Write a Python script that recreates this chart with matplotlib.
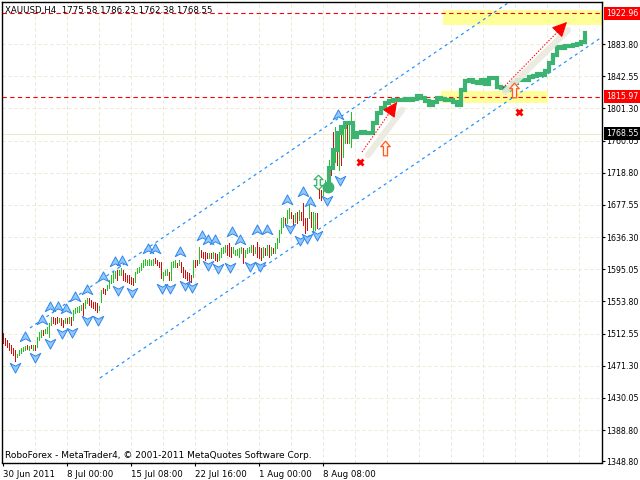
import numpy as np
import matplotlib
matplotlib.use("Agg")
import matplotlib.pyplot as plt
from matplotlib.path import Path
from matplotlib.patches import Rectangle

plt.rcParams['font.family'] = ['DejaVu Sans']
FS = 6.2
FS_Y = 5.7
FS_FOOT = 6.5

# ---------------- data ----------------
title_text = "XAUUSD,H4  1775.58 1786.23 1762.38 1768.55"
footer_text = "RoboForex - MetaTrader4, \u00a9 2001-2011 MetaQuotes Software Corp."

opens = [
    1513.3, 1506.9, 1504.3, 1500.5, 1497.9, 1494.1, 1491.5, 1482.5, 1485.0, 1487.4,
    1489.9, 1491.5, 1497.9, 1491.5, 1497.9, 1491.5, 1497.9, 1495.3, 1504.3, 1508.1,
    1517.1, 1513.3, 1513.3, 1508.1, 1523.5, 1533.8, 1532.5, 1533.8, 1527.4, 1532.5,
    1529.9, 1526.1, 1532.5, 1526.1, 1533.8, 1529.9, 1538.9, 1540.2, 1540.2, 1542.8,
    1551.7, 1545.3, 1551.7, 1558.1, 1555.6, 1553.0, 1553.0, 1551.7, 1542.8, 1553.0,
    1571.0, 1569.7, 1568.4, 1571.0, 1577.4, 1578.6, 1583.8, 1594.0, 1587.6, 1587.6,
    1594.0, 1590.2, 1587.6, 1587.6, 1585.1, 1583.8, 1578.6, 1590.2, 1591.5, 1594.0,
    1597.9, 1600.5, 1600.5, 1600.5, 1600.5, 1600.5, 1609.4, 1606.9, 1604.3, 1604.3,
    1581.2, 1587.6, 1587.6, 1591.5, 1581.2, 1597.9, 1597.9, 1603.0, 1600.5, 1604.3,
    1597.9, 1594.0, 1591.5, 1590.2, 1587.6, 1585.1, 1606.9, 1606.9, 1603.0, 1619.7,
    1617.1, 1617.1, 1615.8, 1609.4, 1615.8, 1609.4, 1615.8, 1614.6, 1606.9, 1610.7,
    1615.8, 1617.1, 1626.1, 1628.7, 1623.5, 1615.8, 1613.3, 1613.3, 1610.7, 1615.8,
    1622.2, 1610.7, 1615.8, 1617.1, 1617.1, 1626.1, 1615.8, 1630.0, 1623.5, 1622.2,
    1610.7, 1622.2, 1613.3, 1626.1, 1613.3, 1622.2, 1615.8, 1622.2, 1630.0, 1641.5,
    1649.2, 1660.7, 1654.3, 1660.7, 1668.4, 1664.6, 1655.6, 1668.4, 1658.1, 1668.4,
    1680.0, 1660.7, 1660.7, 1660.7, 1668.4, 1642.8, 1645.3, 1667.1, 1705.6, 1696.6,
    1690.2, 1696.6, 1703.0, 1713.3, 1735.1, 1771.0, 1732.5, 1756.9, 1722.3, 1777.4,
    1738.9, 1756.9, 1783.8, 1756.9, 1751.8, 1775.58,
]
closes = [
    1500.5, 1497.9, 1495.3, 1491.5, 1487.4, 1484.9, 1477.2, 1486.1, 1491.5, 1494.1,
    1495.3, 1496.6, 1492.8, 1496.6, 1494.1, 1497.9, 1491.5, 1508.1, 1514.5, 1517.1,
    1510.7, 1518.4, 1521.0, 1526.1, 1533.8, 1526.1, 1524.8, 1526.1, 1532.5, 1523.5,
    1521.0, 1532.5, 1526.1, 1533.8, 1523.5, 1542.8, 1545.3, 1546.6, 1547.9, 1549.2,
    1536.3, 1555.6, 1558.1, 1549.2, 1546.6, 1545.3, 1542.8, 1540.2, 1547.9, 1568.4,
    1564.5, 1563.3, 1574.8, 1581.2, 1587.6, 1591.5, 1592.8, 1581.2, 1594.0, 1596.6,
    1581.2, 1580.0, 1578.6, 1577.4, 1576.1, 1574.8, 1591.5, 1596.6, 1597.9, 1603.0,
    1606.9, 1608.2, 1606.9, 1608.2, 1606.9, 1608.2, 1603.0, 1600.5, 1597.9, 1583.8,
    1591.5, 1594.0, 1595.3, 1581.2, 1604.3, 1605.6, 1606.9, 1597.9, 1606.9, 1591.5,
    1585.1, 1583.8, 1581.2, 1580.0, 1578.6, 1606.9, 1597.9, 1600.5, 1623.5, 1610.7,
    1609.4, 1606.9, 1609.4, 1615.8, 1609.4, 1617.1, 1606.9, 1605.6, 1617.1, 1622.2,
    1623.5, 1626.1, 1613.3, 1612.0, 1610.7, 1623.5, 1619.7, 1621.0, 1622.2, 1623.5,
    1603.0, 1619.7, 1622.2, 1623.5, 1626.1, 1613.3, 1623.5, 1610.7, 1609.4, 1606.9,
    1623.5, 1613.3, 1626.1, 1610.7, 1623.5, 1615.8, 1628.7, 1635.1, 1645.3, 1660.7,
    1662.0, 1651.7, 1671.0, 1673.5, 1660.7, 1651.7, 1667.1, 1654.3, 1671.0, 1658.1,
    1651.7, 1641.5, 1645.3, 1683.8, 1649.2, 1668.4, 1667.1, 1647.9, 1686.3, 1683.8,
    1703.0, 1709.4, 1712.0, 1735.1, 1715.8, 1728.7, 1777.4, 1728.7, 1767.1, 1728.7,
    1779.9, 1783.8, 1756.9, 1779.9, 1796.6, 1768.55,
]

forecast_start = 162
forecast_step = 2
forecast = [
    1700.5, 1724.8, 1747.9, 1769.7, 1777.4, 1782.5, 1782.5, 1764.6, 1769.7, 1771.0,
    1769.7, 1769.7, 1782.5, 1795.3, 1801.7, 1808.1, 1810.7, 1812.0, 1812.0, 1812.0,
    1813.3, 1812.0, 1813.3, 1817.1, 1814.6, 1810.7, 1805.6, 1809.4, 1814.6, 1813.3,
    1812.0, 1812.0, 1809.4, 1805.6, 1824.8, 1836.4, 1837.6, 1835.1, 1833.8, 1837.6,
    1832.5, 1840.2, 1840.2, 1828.7, 1827.4, 1824.8, 1826.1, 1833.8, 1837.6, 1837.6,
    1837.6, 1841.5, 1842.8, 1845.3, 1844.1, 1849.2, 1859.4, 1869.7, 1880.0, 1878.7,
    1881.2, 1881.2, 1882.5, 1883.8, 1886.4, 1897.9,
]

up_frac_idx = [11, 19.5, 23.5, 27.5, 31.5, 36, 42, 50, 56, 59.5, 72.5, 76, 88.5,
               99.5, 102.5, 106, 114.5, 118.5, 127, 132, 142, 150, 153.5, 167.5]
up_frac_price = [1508.1, 1529.9, 1546.6, 1546.6, 1544.1, 1559.4, 1568.4, 1585.1,
                 1604.3, 1605.6, 1621.0, 1621.0, 1617.1, 1637.6, 1632.5, 1632.5,
                 1642.8, 1632.5, 1645.3, 1645.3, 1683.8, 1694.0, 1681.2, 1792.8]
dn_frac_idx = [6, 16, 23.5, 29.5, 34.5, 42, 47.5, 57.5, 64.5, 79.5, 83.5, 91, 94.5,
               102.5, 107.5, 113.5, 123.5, 128.5, 143.5, 148.5, 152, 157, 162, 168.5]
dn_frac_price = [1469.7, 1482.5, 1500.5, 1513.3, 1514.5, 1529.9, 1529.9, 1568.4,
                 1565.8, 1571.0, 1571.0, 1574.8, 1572.2, 1600.5, 1596.6, 1597.9,
                 1599.2, 1599.2, 1647.9, 1632.5, 1635.1, 1638.9, 1683.8, 1709.4]

price_ticks = [1883.80, 1842.55, 1801.30, 1760.05, 1718.80, 1677.55, 1636.30,
               1595.05, 1553.80, 1512.55, 1471.30, 1430.05, 1388.80, 1348.80]
time_idx = [0, 32, 64, 96, 128, 160]
time_labels = ["30 Jun 2011", "8 Jul 00:00", "15 Jul 08:00", "22 Jul 16:00",
               "1 Aug 00:00", "8 Aug 08:00"]
grid_step = 16
n_slots = 300
price_min, price_max = 1347.24, 1937.65

level_target = 1922.96
level_support = 1815.97
last_price = 1768.55

zone_top = (220, 299.5, 1908.2, 1927.4)
zone_bottom = (219, 272.5, 1808.1, 1823.5)

chan_up_idx = [13.5, 252.5]
chan_up_price = [1519.7, 1936.4]
chan_lo_idx = [48.5, 299.5]
chan_lo_price = [1455.6, 1892.8]

arrow_big = ((250, 1827.4), (282, 1912.0))
shadow_big = ((251, 1822.3), (282.5, 1901.7))
arrow_small = ((179.5, 1745.3), (197, 1809.4))
shadow_small = ((182.5, 1741.5), (199.5, 1799.2))

buy_idx = [191, 255.5]
buy_price = [1750.5, 1824.8]
stop_idx = [178.5, 258]
stop_price = [1732.5, 1796.6]
updown_idx = [157.5]
updown_price = [1706.9]

# ---------------- figure ----------------
fig = plt.figure(figsize=(6.4, 4.8), dpi=100)
fig.patch.set_facecolor('white')
ax = fig.add_axes([2 / 640, 1 - 462.5 / 480, 600 / 640, 460.5 / 480])
ax.set_xlim(-0.5, n_slots - 0.5)
ax.set_ylim(price_min, price_max)
ax.set_facecolor('white')

PX = 0.72  # one pixel in points
grid_col = '#e9e9d2'
for gx in range(grid_step, n_slots, grid_step):
    ax.axvline(gx, color=grid_col, lw=PX, dashes=(3, 3), zorder=0.5)
for gy in price_ticks[:-1]:
    ax.axhline(gy, color=grid_col, lw=PX, dashes=(3, 3), zorder=0.5)

# zones
for (x0, x1, y0, y1) in (zone_top, zone_bottom):
    ax.add_patch(Rectangle((x0, y0), x1 - x0, y1 - y0, facecolor='#ffff99',
                           edgecolor='none', zorder=0.8))

# last price line
ax.axhline(last_price, color='#ececc4', lw=PX, zorder=0.9)
# red levels
for lv in (level_target, level_support):
    ax.axhline(lv, color='#ff0000', lw=PX * 1.1, dashes=(4, 3), zorder=1.2)

# channel
ax.plot(chan_up_idx, chan_up_price, color='#1e90ff', lw=PX * 1.2, dashes=(2.5, 3), zorder=1.3)
ax.plot(chan_lo_idx, chan_lo_price, color='#1e90ff', lw=PX * 1.2, dashes=(2.5, 3), zorder=1.3)

# bars
o = np.array(opens)
c = np.array(closes)
lo = np.minimum(o, c)
hi = np.maximum(np.maximum(o, c), lo + 2.0)
cols = np.where(c >= o, '#1fc41f', '#d40c0c')
ax.vlines(np.arange(len(c)), lo, hi, colors=cols, linewidth=0.7,
          antialiased=False, zorder=2)

# fractal arrow markers
up_path = Path([(0, 1), (0.95, -0.75), (0, -0.25), (-0.95, -0.75), (0, 1)],
               [Path.MOVETO, Path.LINETO, Path.LINETO, Path.LINETO, Path.CLOSEPOLY])
dn_path = Path([(0, -1), (0.95, 0.75), (0, 0.25), (-0.95, 0.75), (0, -1)],
               [Path.MOVETO, Path.LINETO, Path.LINETO, Path.LINETO, Path.CLOSEPOLY])
ax.plot(up_frac_idx, up_frac_price, ls='none', marker=up_path, ms=8,
        mfc='#93c8ff', mec='#2f86ea', mew=0.7, zorder=2.5)
ax.plot(dn_frac_idx, dn_frac_price, ls='none', marker=dn_path, ms=8,
        mfc='#93c8ff', mec='#2f86ea', mew=0.7, zorder=2.5)

# forecast thick line
fx = forecast_start + forecast_step * np.arange(len(forecast))
ax.plot(fx, forecast, drawstyle='steps-mid', color='#3cb371', lw=3.0,
        solid_joinstyle='miter', solid_capstyle='butt', zorder=3)
ax.plot([fx[0] + 0.5], [forecast[0]], 'o', ms=7.5, color='#3cb371', zorder=3.1)

# arrows with shadow
for (s0, s1) in (shadow_big, shadow_small):
    ax.plot([s0[0], s1[0]], [s0[1], s1[1]], color='#e9e9df', lw=4.5,
            solid_capstyle='round', alpha=0.9, zorder=3.3)
for (a0, a1) in (arrow_big, arrow_small):
    ax.plot([a0[0], a1[0]], [a0[1], a1[1]], color='#ff0000', lw=PX * 1.1,
            ls=(0, (1.2, 1.5)), zorder=3.5)
    mid = (a0[0] + 0.85 * (a1[0] - a0[0]), a0[1] + 0.85 * (a1[1] - a0[1]))
    ax.annotate('', xy=a1, xytext=mid,
                arrowprops=dict(arrowstyle='-|>,head_length=0.65,head_width=0.32',
                                color='#ff0000', lw=0.8, mutation_scale=14,
                                shrinkA=0, shrinkB=0), zorder=3.6)

# buy arrows (hollow orange)
buy_path = Path([(0, 1), (0.65, 0.25), (0.28, 0.25), (0.28, -1), (-0.28, -1),
                 (-0.28, 0.25), (-0.65, 0.25), (0, 1)],
                [Path.MOVETO] + [Path.LINETO] * 6 + [Path.CLOSEPOLY])
ax.plot(buy_idx, buy_price, ls='none', marker=buy_path, ms=10.5,
        mfc='#fff4ec', mec='#ff5a1f', mew=0.9, zorder=3.7)
# stop crosses
ax.plot(stop_idx, stop_price, ls='none', marker='x', ms=5, mec='#ff0000',
        mew=2.0, zorder=3.7)
# up-down arrow
ud_path = Path([(0, 1), (0.6, 0.4), (0.25, 0.4), (0.25, -0.4), (0.6, -0.4), (0, -1),
                (-0.6, -0.4), (-0.25, -0.4), (-0.25, 0.4), (-0.6, 0.4), (0, 1)],
               [Path.MOVETO] + [Path.LINETO] * 9 + [Path.CLOSEPOLY])
ax.plot(updown_idx, updown_price, ls='none', marker=ud_path, ms=10.5,
        mfc='#f2fff2', mec='#3cb371', mew=0.9, zorder=3.7)

# axes styling
for sp in ax.spines.values():
    sp.set_color('black')
    sp.set_linewidth(1.0)
ax.yaxis.tick_right()
ax.set_yticks(price_ticks)
ax.set_yticklabels(['%.2f' % p for p in price_ticks])
ax.set_xticks(time_idx)
ax.set_xticklabels(time_labels, ha='left')
ax.tick_params(axis='y', length=2.2, width=0.8, pad=1, labelsize=FS_Y, colors='black')
ax.tick_params(axis='x', length=2.2, width=0.8, pad=3, labelsize=FS, colors='black')

# price boxes on the axis
ytr = ax.get_yaxis_transform()
for val, fc in ((level_target, '#ff0000'), (level_support, '#ff0000'), (last_price, '#000000')):
    ax.text(1.007, val, '%.2f' % val, transform=ytr, ha='left', va='center',
            fontsize=FS_Y, color='white', zorder=10, clip_on=False,
            bbox=dict(boxstyle='square,pad=0.25', fc=fc, ec='none'))

fig.text(5 / 640, 1 - 10 / 480, title_text, fontsize=FS, color='black',
         ha='left', va='center', zorder=10)
fig.text(5 / 640, 1 - 455 / 480, footer_text, fontsize=FS_FOOT, color='black',
         ha='left', va='center', zorder=10)

fig.savefig('out.png', dpi=100)
